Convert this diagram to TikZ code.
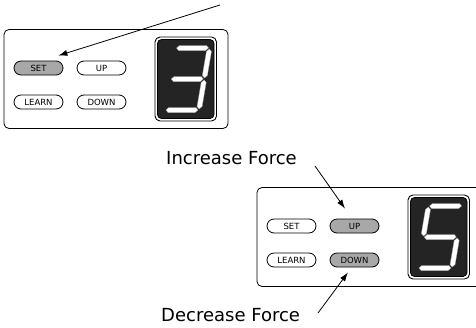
\documentclass[tikz,border=0pt]{standalone}
\usepackage{fontspec}
\setmainfont{DejaVu Sans}
\usetikzlibrary{arrows.meta}

\definecolor{btngray}{gray}{0.66}
\definecolor{lcd}{gray}{0.14}

\tikzset{
  btn/.style={draw, line width=0.8pt, rounded corners=7pt, minimum width=49pt,
    minimum height=14pt, inner sep=0pt, fill=white, font=\fontsize{8.5}{10}\selectfont},
  pressed/.style={fill=btngray},
  seg/.style={fill=white, draw=gray!70, line width=0.3pt},
  label/.style={inner sep=0pt, anchor=base west, font=\fontsize{18}{20}\selectfont},
}

% one segment of the digit (horizontal / vertical)
\newcommand{\hseg}[1]{\filldraw[seg] (1,#1) -- ++(2.5,2.5) -- ++(27,0) -- ++(2.5,-2.5) -- ++(-2.5,-2.5) -- ++(-27,0) -- cycle;}
\newcommand{\vseg}[2]{\filldraw[seg] (#1,#2+1) -- ++(2.5,2.5) -- ++(0,24) -- ++(-2.5,2.5) -- ++(-2.5,-2.5) -- ++(0,-24) -- cycle;}

\begin{document}
\begin{tikzpicture}[x=1pt,y=-1pt,>={Latex[length=9pt,width=6pt]}]
\useasboundingbox (0,0) rectangle (476,327);

% upper panel
\draw[line width=0.8pt, rounded corners=5pt, fill=white] (4,29.5) rectangle (228,128.5);
\node[btn, pressed] (set1) at (38.5,68) {SET};
\node[btn] (up1) at (101.5,68) {UP};
\node[btn] (learn1) at (38.5,102) {LEARN};
\node[btn] (down1) at (101.5,102) {DOWN};

% display
\draw[line width=0.9pt, rounded corners=5pt, fill=white] (155,37) rectangle (216.5,121);
\fill[lcd, draw=black, line width=0.8pt, rounded corners=4pt] (157.5,39.5) rectangle (214,118.5);
\begin{scope}[shift={(165,110)}, x={(1pt,0pt)}, y={(0.17pt,1pt)}]
  \hseg{62} \hseg{31} \hseg{0}
  \vseg{34}{31} \vseg{34}{0}
\end{scope}

% lower panel
\begin{scope}[shift={(253,158)}]
\draw[line width=0.8pt, rounded corners=5pt, fill=white] (4,29.5) rectangle (228,128.5);
\node[btn] (set2) at (38.5,68) {SET};
\node[btn, pressed] (up2) at (101.5,68) {UP};
\node[btn] (learn2) at (38.5,102) {LEARN};
\node[btn, pressed] (down2) at (101.5,102) {DOWN};

% display
\draw[line width=0.9pt, rounded corners=5pt, fill=white] (155,37) rectangle (216.5,121);
\fill[lcd, draw=black, line width=0.8pt, rounded corners=4pt] (157.5,39.5) rectangle (214,118.5);
\end{scope}
\begin{scope}[shift={(418,268)}, x={(1pt,0pt)}, y={(0.17pt,1pt)}]
  \hseg{62} \hseg{31} \hseg{0}
  \vseg{0}{31} \vseg{34}{0}
\end{scope}

% labels
\node[label] (incr) at (166,164.5) {Increase Force};
\node[label] (decr) at (161,321.5) {Decrease Force};

% arrows
\coordinate (settail) at (220,5);
\coordinate (incrtail) at (315,166);
\coordinate (decrtail) at (318,313);
\draw[->, line width=0.8pt] (settail) -- ([xshift=-5pt,yshift=5pt]set1.north east);
\draw[->, line width=0.8pt] (incrtail) -- ([xshift=-9.5pt,yshift=10pt]up2.north);
\draw[->, line width=0.8pt] (decrtail) -- ([xshift=-6.5pt,yshift=-5pt]down2.south);

\end{tikzpicture}
\end{document}
